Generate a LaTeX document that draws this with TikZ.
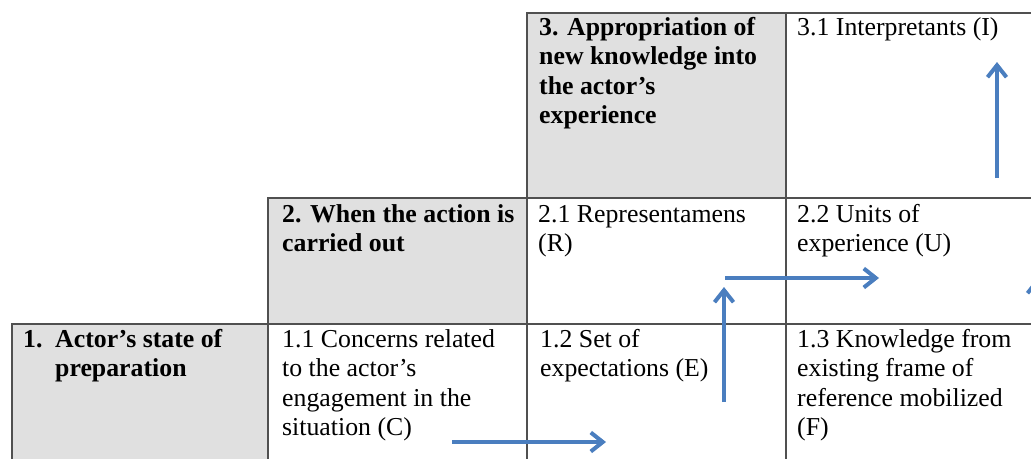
\documentclass[tikz,border=0pt]{standalone}
\usepackage{fontspec}
\setmainfont{Liberation Serif}
\usetikzlibrary{arrows.meta}
\definecolor{hdrgray}{HTML}{E0E0E0}
\definecolor{gridline}{HTML}{505050}
\definecolor{arrowblue}{HTML}{4A7EBF}
\newcommand{\celllines}[1]{\begin{tabular}[t]{@{}l@{}}#1\end{tabular}}
\begin{document}
\begin{tikzpicture}[x=1pt,y=-1pt,
  hdr/.style={fill=hdrgray},
  gridrule/.style={draw=gridline,line width=1.3pt},
  celltext/.style={anchor=base west,inner sep=0pt,font=\fontsize{25.8}{29.5}\selectfont},
  hdrtext/.style={anchor=base west,inner sep=0pt,font=\fontsize{25.8}{29.5}\selectfont\bfseries},
  flow/.style={draw=arrowblue,line width=3.2pt,-{Straight Barb[length=12pt,width=19pt,line width=4pt]}}]
\clip (0,0) rectangle (1031,458);
% header fills
\fill[hdr] (527,13) rectangle (786,198);
\fill[hdr] (268,198) rectangle (527,324);
\fill[hdr] (12,324) rectangle (268,470);
% grid
\draw[gridrule] (1060,13) -- (527,13) -- (527,470);
\draw[gridrule] (1060,198) -- (268,198) -- (268,470);
\draw[gridrule] (1060,324) -- (12,324) -- (12,470);
\draw[gridrule] (786,13) -- (786,470);
% texts
\node[hdrtext] (h3) at (539,35) {\celllines{3. Appropriation of\\new knowledge into\\the actor’s\\experience}};
\node[celltext] (c31) at (797,35) {\celllines{3.1 Interpretants (I)}};
\node[hdrtext] (h2) at (282,222) {\celllines{2. When the action is\\carried out}};
\node[celltext] (c21) at (538,222) {\celllines{2.1 Representamens\\(R)}};
\node[celltext] (c22) at (797,222) {\celllines{2.2 Units of\\experience (U)}};
\node[hdrtext] (h1) at (23,347) {\celllines{\makebox[32pt][l]{1.}Actor’s state of\\\hspace*{32pt}preparation}};
\node[celltext] (c11) at (282,347) {\celllines{1.1 Concerns related\\to the actor’s\\engagement in the\\situation (C)}};
\node[celltext] (c12) at (540,347) {\celllines{1.2 Set of\\expectations (E)}};
\node[celltext] (c13) at (797,347) {\celllines{1.3 Knowledge from\\existing frame of\\reference mobilized\\(F)}};
% arrow end points
\coordinate (a1s) at (452,442);
\coordinate (a1e) at (606,442);
\coordinate (a2s) at (724,402);
\coordinate (a2e) at (724,287);
\coordinate (a3s) at (725,278);
\coordinate (a3e) at (879,278);
\coordinate (a4s) at (997,178);
\coordinate (a4e) at (997,62);
\coordinate (a5s) at (1037,400);
\coordinate (a5e) at (1037,278);
\draw[flow] (a1s) -- (a1e);
\draw[flow] (a2s) -- (a2e);
\draw[flow] (a3s) -- (a3e);
\draw[flow] (a4s) -- (a4e);
\draw[flow] (a5s) -- (a5e);
\end{tikzpicture}
\end{document}
